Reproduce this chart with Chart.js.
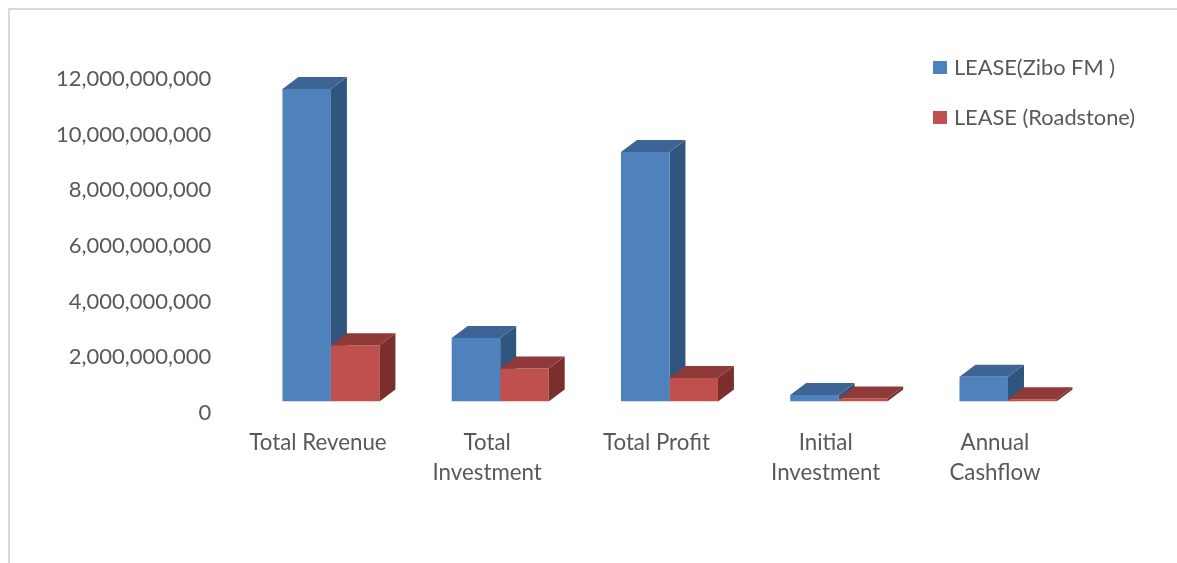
<!DOCTYPE html>
<html>
<head>
<meta charset="utf-8">
<script src="https://cdn.jsdelivr.net/npm/chart.js@4"></script>
<style>
  html, body { margin: 0; padding: 0; background: #fff; overflow: hidden; }
  #wrap { position: relative; width: 1177px; height: 563px; }
  #frame { position: absolute; left: 8px; top: 8px; right: 0; bottom: 0; border-left: 2px solid #d9d9d9; border-top: 2px solid #d9d9d9; }
  canvas { position: absolute; left: 0; top: 0; }
</style>
</head>
<body>
<div id="wrap">
  <div id="frame"></div>
  <canvas id="chart" width="1177" height="563"></canvas>
</div>
<script>
const categories = ["Total Revenue", ["Total", "Investment"], "Total Profit", ["Initial", "Investment"], ["Annual", "Cashflow"]];
const ziboValues = [11230000000, 2280000000, 8960000000, 230000000, 890000000];
const roadstoneValues = [2020000000, 1190000000, 840000000, 110000000, 80000000];

// depth of the fake 3D boxes, px
const depthX = 16;
const depthY = -12;

function drawFaces(chart, index) {
  const ctx = chart.ctx;
  const ds = chart.data.datasets[index];
  chart.getDatasetMeta(index).data.forEach(bar => {
    const left = bar.x - bar.width / 2;
    const right = bar.x + bar.width / 2;
    ctx.save();
    ctx.fillStyle = ds.sideColor;
    ctx.beginPath();
    ctx.moveTo(right, bar.y);
    ctx.lineTo(right + depthX, bar.y + depthY);
    ctx.lineTo(right + depthX, bar.base + depthY);
    ctx.lineTo(right, bar.base);
    ctx.closePath();
    ctx.fill();
    ctx.fillStyle = ds.topColor;
    ctx.beginPath();
    ctx.moveTo(left, bar.y);
    ctx.lineTo(left + depthX, bar.y + depthY);
    ctx.lineTo(right + depthX, bar.y + depthY);
    ctx.lineTo(right, bar.y);
    ctx.closePath();
    ctx.fill();
    ctx.restore();
  });
}

// blue faces go under the bars, red faces on top, so red hides the blue side
const boxFaces = {
  id: 'boxFaces',
  beforeDatasetsDraw(chart) { drawFaces(chart, 0); },
  afterDatasetsDraw(chart) { drawFaces(chart, 1); }
};

// legend sits inside the plot, top right
const legendPlace = {
  id: 'legendPlace',
  afterLayout(chart) {
    const legend = chart.legend;
    legend.left = 908.8;
    legend.right = 1177;
    legend.top = 28.5;
    legend.bottom = 200;
  }
};

new Chart(document.getElementById('chart'), {
  type: 'bar',
  data: {
    labels: categories,
    datasets: [
      { label: 'LEASE(Zibo FM )', data: ziboValues, backgroundColor: '#4f81bd', topColor: '#3d6494', sideColor: '#30557f' },
      { label: 'LEASE (Roadstone)', data: roadstoneValues, backgroundColor: '#c0504d', topColor: '#8f3a38', sideColor: '#7b2f2d' }
    ]
  },
  options: {
    responsive: false,
    animation: false,
    layout: { padding: { left: 0, right: 84.4, top: 67.5, bottom: 0 } },
    datasets: { bar: { categoryPercentage: 0.573, barPercentage: 1, borderWidth: 0 } },
    plugins: {
      tooltip: { enabled: false },
      legend: {
        position: 'chartArea',
        align: 'start',
        labels: {
          // small box + thick outline: keeps the text close to the swatch
          boxWidth: 6,
          boxHeight: 5,
          padding: 28.2,
          color: '#595959',
          font: { family: 'Lato', size: 21.8 },
          generateLabels(chart) {
            return Chart.defaults.plugins.legend.labels.generateLabels(chart).map(item => ({
              ...item,
              lineWidth: 8,
              strokeStyle: item.fillStyle
            }));
          }
        }
      }
    },
    scales: {
      x: {
        grid: { display: false, drawTicks: false },
        border: { display: false },
        afterFit(scale) { scale.height = 161.5; },
        ticks: {
          autoSkip: false,
          maxRotation: 0,
          minRotation: 0,
          labelOffset: -13,
          padding: 26,
          color: '#595959',
          font: { family: 'Lato', size: 22.3, lineHeight: 1.35 }
        }
      },
      y: {
        min: 0,
        max: 12000000000,
        grid: { display: false, drawTicks: false },
        border: { display: false },
        afterFit(scale) { scale.width = 246.3; },
        ticks: {
          stepSize: 2000000000,
          labelOffset: 11.5,
          padding: 35,
          color: '#595959',
          font: { family: 'Lato', size: 22 },
          callback: v => v.toLocaleString('en-US')
        }
      }
    }
  },
  plugins: [boxFaces, legendPlace]
});
</script>
</body>
</html>
